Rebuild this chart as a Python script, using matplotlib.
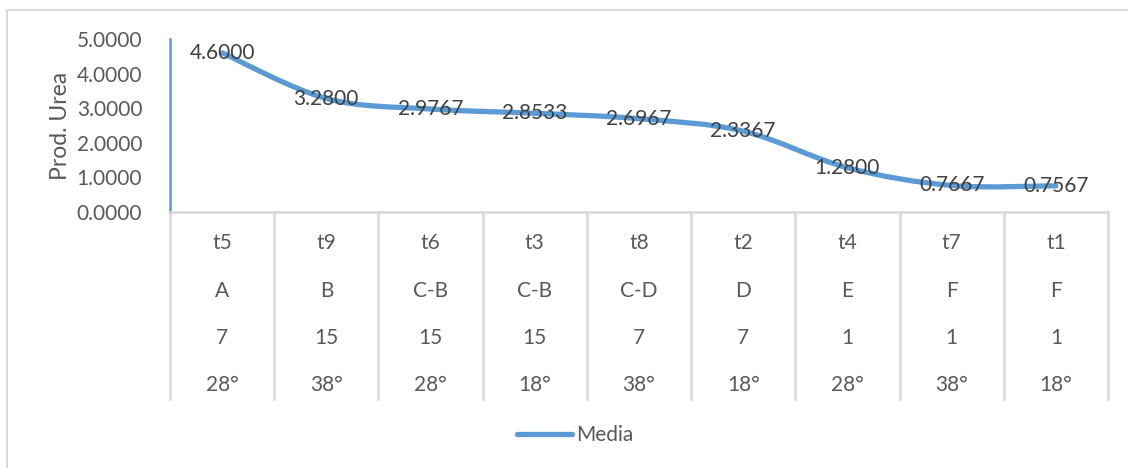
import matplotlib.pyplot as plt
from matplotlib.path import Path
from matplotlib.patches import PathPatch, Rectangle
from matplotlib.lines import Line2D
import matplotlib.transforms as mtransforms

plt.rcParams['font.family'] = ['Lato', 'DejaVu Sans']

# treatment order, sorted by mean
tratamientos = ['t5', 't9', 't6', 't3', 't8', 't2', 't4', 't7', 't1']
grupos = ['A', 'B', 'C-B', 'C-B', 'C-D', 'D', 'E', 'F', 'F']
dias = ['7', '15', '15', '15', '7', '7', '1', '1', '1']
temperaturas = ['28°', '38°', '28°', '18°', '38°', '18°', '28°', '38°', '18°']
media = [4.6000, 3.2800, 2.9767, 2.8533, 2.6967, 2.3367, 1.2800, 0.7667, 0.7567]

BLUE = '#5B9BD5'
GRID = '#D9D9D9'
TXT = '#595959'
LBL = '#404040'
FS = 15

fig = plt.figure(figsize=(11.28, 4.68), dpi=100)
ax = fig.add_axes([170 / 1128, 1 - 212 / 468, 938 / 1128, 173 / 468])

# chart border (runs off the right and bottom edges)
fig.patches.append(Rectangle((7 / 1128, -0.1), 1.2, 1 - 10 / 468 + 0.1,
                             transform=fig.transFigure, fill=False,
                             edgecolor=GRID, lw=1.5))

x = list(range(len(media)))

# smoothed line: cubic bezier segments through the points
verts = [(x[0], media[0])]
codes = [Path.MOVETO]
n = len(x)
for i in range(n - 1):
    p0 = (x[i - 1], media[i - 1]) if i > 0 else (x[i], media[i])
    p1 = (x[i], media[i])
    p2 = (x[i + 1], media[i + 1])
    p3 = (x[i + 2], media[i + 2]) if i + 2 < n else p2
    c1 = (p1[0] + (p2[0] - p0[0]) / 6, p1[1] + (p2[1] - p0[1]) / 6)
    c2 = (p2[0] - (p3[0] - p1[0]) / 6, p2[1] - (p3[1] - p1[1]) / 6)
    verts += [c1, c2, p2]
    codes += [Path.CURVE4] * 3
ax.add_patch(PathPatch(Path(verts, codes), fill=False, edgecolor=BLUE,
                       lw=3.8, capstyle='round', joinstyle='round', zorder=3))

for xi, v in zip(x, media):
    ax.text(xi, v, f'{v:.4f}', ha='center', va='center', fontsize=FS,
            color=LBL, zorder=4)

ax.set_xlim(-0.5, n - 0.5)
ax.set_ylim(0, 5)
ax.set_yticks([0, 1, 2, 3, 4, 5])
ax.set_yticklabels([f'{t:.4f}' for t in range(6)])
ax.set_xticks([])
ax.tick_params(axis='y', length=0, pad=20, labelsize=FS, labelcolor=TXT)
ax.set_ylabel('Prod. Urea', fontsize=16.5, color=TXT, labelpad=4)

for s in ['top', 'right']:
    ax.spines[s].set_visible(False)
ax.spines['left'].set_color(BLUE)
ax.spines['left'].set_linewidth(1.8)
ax.spines['bottom'].set_color(GRID)
ax.spines['bottom'].set_linewidth(1.8)

# multi-level category labels below the axis
trans = mtransforms.blended_transform_factory(ax.transData, ax.transAxes)
bottom = -187 / 173
for b in [i - 0.5 for i in range(n + 1)]:
    ax.add_line(Line2D([b, b], [0, bottom], transform=trans, color=GRID,
                       lw=1.8, clip_on=False))
rows = [tratamientos, grupos, dias, temperaturas]
row_y = [-31 / 173, -79 / 173, -126 / 173, -173 / 173]
for labels, ry in zip(rows, row_y):
    for xi, lab in zip(x, labels):
        ax.text(xi, ry, lab, transform=trans, ha='center', va='center',
                fontsize=FS, color=TXT, clip_on=False)

handle = Line2D([], [], color=BLUE, lw=3.8, solid_capstyle='round')
fig.legend([handle], ['Media'], loc='center', bbox_to_anchor=(0.51, 1 - 435 / 468),
           frameon=False, fontsize=FS, labelcolor=TXT, handlelength=2.6,
           handletextpad=0.2)

fig.savefig('out.png', dpi=100)
